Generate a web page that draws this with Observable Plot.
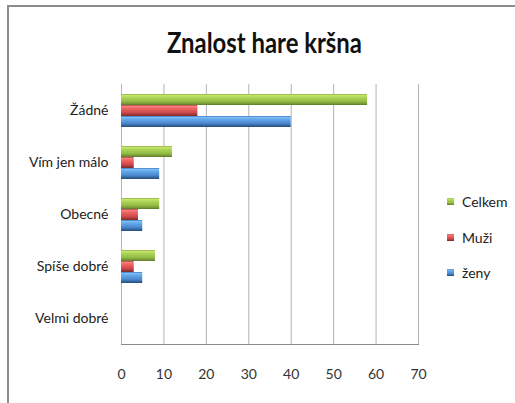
<!DOCTYPE html>
<html><head><meta charset="utf-8">
<script src="https://cdn.jsdelivr.net/npm/d3@7"></script>
<script src="https://cdn.jsdelivr.net/npm/@observablehq/plot@0.6"></script>
<style>
body{margin:0;background:#fff;}
#wrap{position:relative;width:515px;height:403px;overflow:hidden;font-family:Lato,"Open Sans",sans-serif;color:#222;}
#border{position:absolute;left:7px;top:5px;width:600px;height:500px;border-top:2px solid #8c8c8c;border-left:2px solid #8c8c8c;}
#chart{position:absolute;left:0;top:0;}
#title{position:absolute;left:0;top:27px;width:529px;text-align:center;font-weight:bold;font-size:29px;line-height:29px;color:#111;}
#title span{display:inline-block;transform-origin:50% 50%;}
#legend{position:absolute;left:447px;top:195px;font-size:14px;line-height:14px;}
#legend .item{display:flex;align-items:flex-start;height:14px;margin-bottom:21.5px;}
#legend .sw{width:7px;height:7px;margin-top:3px;margin-right:8px;box-sizing:border-box;}
</style></head>
<body>
<div id="wrap">
  <div id="border"></div>
  <div id="chart"></div>
  <div id="title"><span></span></div>
  <div id="legend"></div>
</div>
<script>
const titleText = "Znalost hare kršna";
const categories = ["Žádné", "Vím jen málo", "Obecné", "Spíše dobré", "Velmi dobré"];
const series = ["Celkem", "Muži", "ženy"];
const celkem = [58, 12, 9, 8, 0];
const muzi = [18, 3, 4, 3, 0];
const zeny = [40, 9, 5, 5, 0];
const xTicks = [0, 10, 20, 30, 40, 50, 60, 70];

const gradients = {
  Celkem: [["0", "#86a83e"], ["0.12", "#c4e66c"], ["0.35", "#a9d152"], ["0.65", "#96bf47"], ["0.85", "#7d9c3a"], ["1", "#5c782b"]],
  "Muži": [["0", "#b04040"], ["0.12", "#fa8080"], ["0.35", "#ec6060"], ["0.65", "#d24c4c"], ["0.85", "#a53a3a"], ["1", "#7c2828"]],
  "ženy": [["0", "#3d74b8"], ["0.12", "#7cbcf6"], ["0.35", "#5fa2e4"], ["0.65", "#4d8ad0"], ["0.85", "#36679f"], ["1", "#254b7a"]]
};
const gid = {Celkem: "gCelkem", "Muži": "gMuzi", "ženy": "gZeny"};

const valuesBySeries = {Celkem: celkem, "Muži": muzi, "ženy": zeny};
const rows = [];
categories.forEach((c, i) => series.forEach(s => rows.push({category: c, series: s, value: valuesBySeries[s][i]})));

const font = 'Lato,"Open Sans",sans-serif';

const defsMark = () => {
  const defs = d3.create("svg:defs");
  for (const s of series) {
    const g = defs.append("linearGradient").attr("id", gid[s]).attr("x1", 0).attr("y1", 0).attr("x2", 0).attr("y2", 1);
    for (const [o, c] of gradients[s]) g.append("stop").attr("offset", o).attr("stop-color", c);
  }
  return defs.node();
};

const chart = Plot.plot({
  width: 515,
  height: 403,
  marginLeft: 121,
  marginRight: 97,
  marginTop: 83,
  marginBottom: 58,
  style: {fontFamily: font, fontSize: "14px", color: "#222", background: "transparent"},
  x: {domain: [0, 70]},
  y: {domain: series, axis: null, paddingInner: 0, paddingOuter: 0.74},
  fy: {domain: categories, padding: 0, label: null},
  color: {domain: series, range: series.map(s => `url(#${gid[s]})`)},
  marks: [
    defsMark,
    Plot.gridX(xTicks, {stroke: "#b3b3b3", strokeOpacity: 1}),
    Plot.axisX(xTicks, {tickSize: 0, tickPadding: 25, label: null, fill: "#333"}),
    Plot.axisFy({anchor: "left", tickSize: 0, tickPadding: 13, label: null, fill: "#222"}),
    Plot.barX(rows, {x: "value", y: "series", fy: "category", fill: "series"}),
    Plot.frame({anchor: "bottom", facet: "super", stroke: "#8c8c8c", strokeOpacity: 1})
  ]
});
document.getElementById("chart").appendChild(chart);

const tspan = document.querySelector("#title span");
tspan.textContent = titleText;
const tw = tspan.getBoundingClientRect().width;
tspan.style.transform = `scaleX(${195 / tw})`;

const legend = d3.select("#legend");
for (const s of series) {
  const item = legend.append("div").attr("class", "item");
  const stops = gradients[s].map(([o, c]) => `${c} ${o * 100}%`).join(",");
  item.append("div").attr("class", "sw").style("background", `linear-gradient(to bottom, ${stops})`);
  item.append("span").text(s);
}
</script>
</body></html>
